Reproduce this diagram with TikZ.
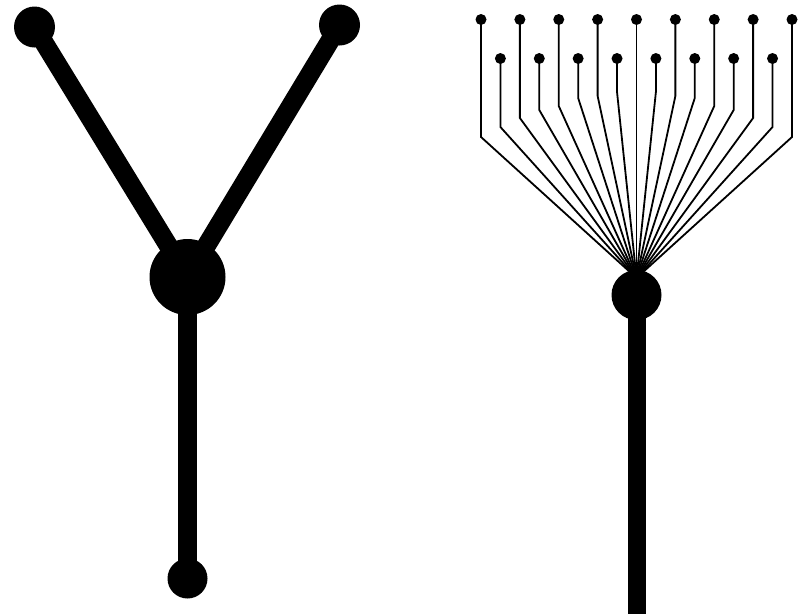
\documentclass[tikz,border=0pt]{standalone}
\tikzset{
  bigdot/.style={circle, fill=black, inner sep=0pt, minimum size=#1},
  limb/.style={line width=19pt},
  stemline/.style={line width=18pt},
  wire/.style={line width=1.8pt},
  smalldot/.style={circle, fill=black, inner sep=0pt, minimum size=11pt},
}
\begin{document}
\begin{tikzpicture}[x=1pt,y=-1pt]
\useasboundingbox (0,0) rectangle (806,614);
% ---- left figure ----
\node[bigdot=41pt] (tl) at (34.5,27) {};
\node[bigdot=41pt] (tr) at (339.5,25) {};
\node[bigdot=76pt] (hubL) at (187.5,277) {};
\node[bigdot=40pt] (bot) at (187.5,578.5) {};
\draw[limb] (tl.center) -- (hubL.center);
\draw[limb] (tr.center) -- (hubL.center);
\draw[limb] (hubL.center) -- (bot.center);
% ---- right figure ----
\coordinate (conv) at (636.5,278);
\coordinate (stemend) at (636.5,614);
\foreach \i/\by in {1/137,2/118,3/106,4/96,6/96,7/106,8/118,9/137} {
  \node[smalldot] (t\i) at ({481+38.875*(\i-1)},19.5) {};
  \draw[wire] (t\i.center) -- (t\i.center |- 0,\by) -- (conv);
}
\node[smalldot] (t5) at (636.5,19.5) {};
\draw[wire] (t5.center) -- (conv);
\foreach \i/\by in {1/127,2/110,3/98,4/92,5/92,6/98,7/110,8/127} {
  \node[smalldot] (b\i) at ({500.4+38.875*(\i-1)},58.5) {};
  \draw[wire] (b\i.center) -- (b\i.center |- 0,\by) -- (conv);
}
\node[bigdot=50pt] (hubR) at (636.5,295) {};
\draw[stemline] (hubR.center) -- (stemend);
\end{tikzpicture}
\end{document}
